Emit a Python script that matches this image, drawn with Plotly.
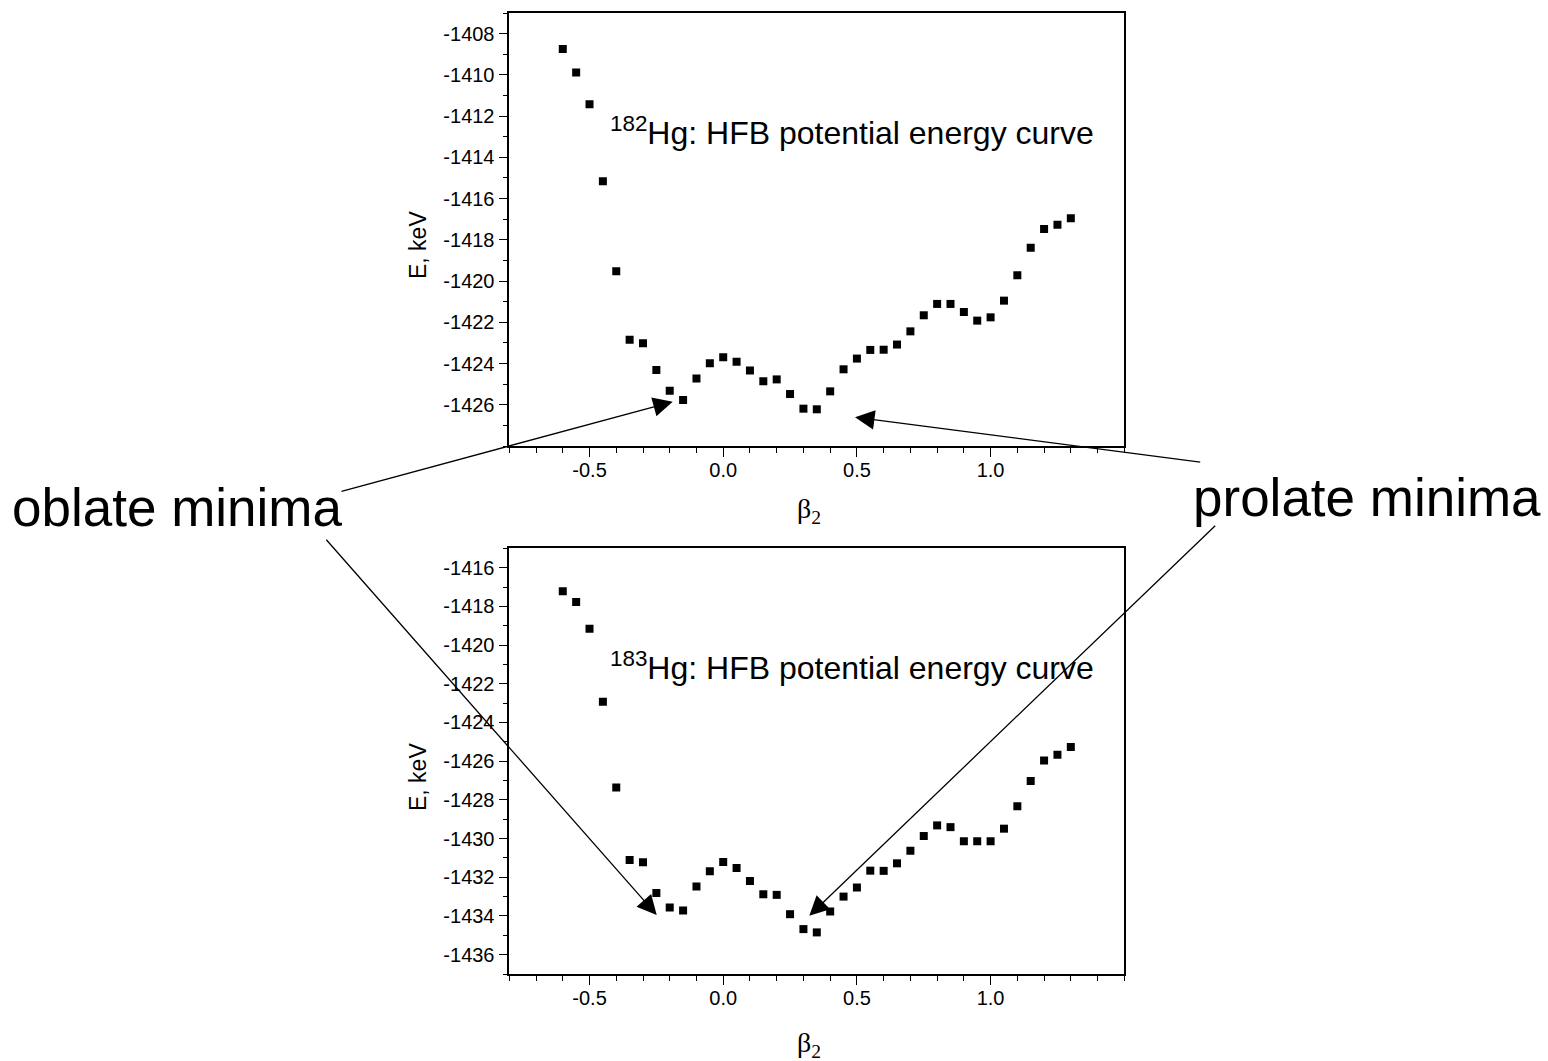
import plotly.graph_objects as go

# ---------------- data ----------------
beta2 = [-0.60, -0.55, -0.50, -0.45, -0.40, -0.35, -0.30, -0.25, -0.20, -0.15,
         -0.10, -0.05, 0.00, 0.05, 0.10, 0.15, 0.20, 0.25, 0.30, 0.35,
         0.40, 0.45, 0.50, 0.55, 0.60, 0.65, 0.70, 0.75, 0.80, 0.85,
         0.90, 0.95, 1.00, 1.05, 1.10, 1.15, 1.20, 1.25, 1.30]

e_hg182 = [-1408.75, -1409.88, -1411.43, -1415.16, -1419.52, -1422.85, -1423.02, -1424.31,
           -1425.32, -1425.77, -1424.73, -1423.99, -1423.70, -1423.92, -1424.34, -1424.86,
           -1424.77, -1425.48, -1426.19, -1426.22, -1425.35, -1424.28, -1423.76, -1423.34,
           -1423.33, -1423.08, -1422.44, -1421.66, -1421.11, -1421.11, -1421.50, -1421.92,
           -1421.76, -1420.95, -1419.72, -1418.38, -1417.47, -1417.27, -1416.95]

e_hg183 = [-1417.22, -1417.77, -1419.16, -1422.93, -1427.36, -1431.11, -1431.23, -1432.82,
           -1433.56, -1433.72, -1432.48, -1431.69, -1431.21, -1431.52, -1432.19, -1432.88,
           -1432.91, -1433.91, -1434.68, -1434.85, -1433.77, -1433.00, -1432.53, -1431.66,
           -1431.67, -1431.28, -1430.63, -1429.87, -1429.32, -1429.41, -1430.14, -1430.14,
           -1430.14, -1429.49, -1428.33, -1427.02, -1425.96, -1425.67, -1425.27]

x_tickvals = [-0.5, 0.0, 0.5, 1.0]
x_ticktext = ["-0.5", "0.0", "0.5", "1.0"]
y_tickvals_182 = [-1426, -1424, -1422, -1420, -1418, -1416, -1414, -1412, -1410, -1408]
y_tickvals_183 = [-1436, -1434, -1432, -1430, -1428, -1426, -1424, -1422, -1420, -1418, -1416]

x_range = [-0.8, 1.5]
y_range_182 = [-1428, -1407]
y_range_183 = [-1437, -1415]

# ---------------- layout geometry ----------------
W, H = 1548, 1061
FONT = "Arial, Liberation Sans, sans-serif"


def px(x, y):
    return x / W, 1 - y / H


x_dom = [509.3 / W, 1124.3 / W]
y_dom_top = [1 - 446 / H, 1 - 13 / H]
y_dom_bot = [1 - 974 / H, 1 - 548.3 / H]

fig = go.Figure()
fig.add_trace(go.Scatter(x=beta2, y=e_hg182, mode="markers", xaxis="x", yaxis="y",
                         marker=dict(symbol="square", size=8, color="black"), showlegend=False))
fig.add_trace(go.Scatter(x=beta2, y=e_hg183, mode="markers", xaxis="x2", yaxis="y2",
                         marker=dict(symbol="square", size=8, color="black"), showlegend=False))

tickfont = dict(family=FONT, size=20, color="black")


def main_x(anchor):
    return dict(domain=x_dom, anchor=anchor, range=x_range, tickmode="array",
                tickvals=x_tickvals, ticktext=x_ticktext, ticks="outside", ticklen=9,
                tickwidth=1.3, tickcolor="black", showline=True, linecolor="black",
                linewidth=1.6, mirror=True, showgrid=False, zeroline=False,
                tickfont=tickfont, ticklabelstandoff=-4,
                minor=dict(tick0=0, dtick=0.1, ticks="outside", ticklen=5,
                           tickwidth=1.3, tickcolor="black", showgrid=False))


def main_y(anchor, dom, rng, tv):
    return dict(domain=dom, anchor=anchor, range=rng, tickmode="array",
                tickvals=tv, ticktext=[str(v) for v in tv], ticks="outside", ticklen=9,
                tickwidth=1.3, tickcolor="black", showline=True, linecolor="black",
                linewidth=1.6, mirror=True, showgrid=False, zeroline=False,
                tickfont=tickfont,
                minor=dict(tick0=0, dtick=1, ticks="outside", ticklen=5,
                           tickwidth=1.3, tickcolor="black", showgrid=False))


def mirror_x(over, anchor):
    return dict(overlaying=over, anchor=anchor, side="top", range=x_range,
                tickmode="array", tickvals=x_tickvals, ticks="inside", ticklen=6,
                tickwidth=1.3, tickcolor="black", showticklabels=False,
                showline=False, showgrid=False, zeroline=False,
                minor=dict(tick0=0, dtick=0.1, ticks="inside", ticklen=4,
                           tickwidth=1.3, tickcolor="black", showgrid=False))


def mirror_y(over, anchor, rng, tv):
    return dict(overlaying=over, anchor=anchor, side="right", range=rng,
                tickmode="array", tickvals=tv, ticks="inside", ticklen=6,
                tickwidth=1.3, tickcolor="black", showticklabels=False,
                showline=False, showgrid=False, zeroline=False,
                minor=dict(tick0=0, dtick=1, ticks="inside", ticklen=4,
                           tickwidth=1.3, tickcolor="black", showgrid=False))


fig.update_layout(
    width=W, height=H, autosize=False,
    margin=dict(l=0, r=0, t=0, b=0),
    paper_bgcolor="white", plot_bgcolor="white",
    font=dict(family=FONT, color="black"),
    showlegend=False,
    xaxis=main_x("y"),
    yaxis=main_y("x", y_dom_top, y_range_182, y_tickvals_182),
    xaxis2=main_x("y2"),
    yaxis2=main_y("x2", y_dom_bot, y_range_183, y_tickvals_183),
    xaxis3=mirror_x("x", "y"),
    yaxis3=mirror_y("y", "x", y_range_182, y_tickvals_182),
    xaxis4=mirror_x("x2", "y2"),
    yaxis4=mirror_y("y2", "x2", y_range_183, y_tickvals_183),
)

ann = []


def text_ann(text, x, y, size, xanchor="center", yanchor="middle", angle=0, family=FONT):
    px_, py_ = px(x, y)
    ann.append(dict(text=text, x=px_, y=py_, xref="paper", yref="paper", showarrow=False,
                    xanchor=xanchor, yanchor=yanchor, textangle=angle,
                    font=dict(family=family, size=size, color="black")))


# plot labels
text_ann("<sup>182</sup>Hg: HFB potential energy curve", 608, 131, 32, xanchor="left")
text_ann("<sup>183</sup>Hg: HFB potential energy curve", 608, 666, 32, xanchor="left")
text_ann("β<sub>2</sub>", 809, 511, 28, family="Liberation Serif, Times New Roman, serif")
text_ann("β<sub>2</sub>", 809, 1044, 28, family="Liberation Serif, Times New Roman, serif")
text_ann("E, keV", 418, 245, 23, angle=-90)
text_ann("E, keV", 418, 777, 23, angle=-90)
text_ann("oblate minima", 177, 507, 53)
text_ann("prolate minima", 1367, 497, 53)


def arrow(tip, tail):
    tx, ty = px(*tip)
    ann.append(dict(text="", x=tx, y=ty, xref="paper", yref="paper", showarrow=True,
                    ax=tail[0] - tip[0], ay=tail[1] - tip[1], axref="pixel", ayref="pixel",
                    arrowhead=2, arrowsize=3, arrowwidth=1.3, arrowcolor="black",
                    standoff=0, startstandoff=0))


arrow((672.7, 401.7), (340, 491.7))
arrow((855, 417.3), (1201.7, 462.3))
arrow((656.7, 915), (325, 538.3))
arrow((809.3, 915.7), (1216.7, 524.3))

fig.update_layout(annotations=ann)
fig.write_html("out.html", config={"displayModeBar": False},
               post_script="document.body.style.margin='0px';document.body.style.overflow='hidden';")
